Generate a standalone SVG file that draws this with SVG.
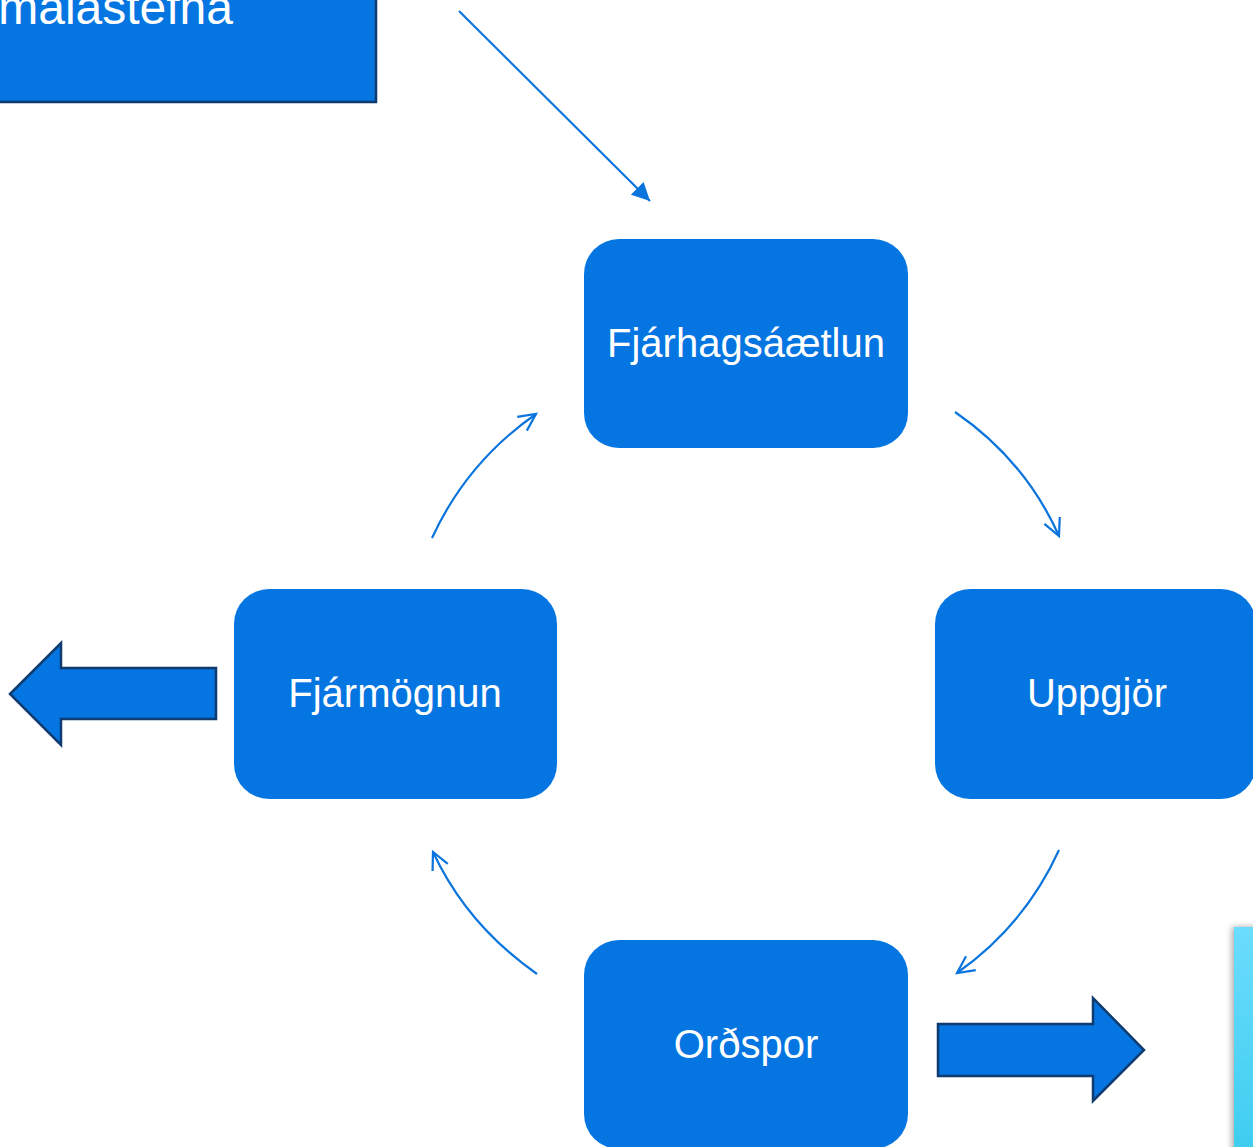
<svg xmlns="http://www.w3.org/2000/svg" width="1253" height="1147" viewBox="0 0 1253 1147">
<style>
.box{fill:#0575e1}
.lbl{font-family:"Liberation Sans",Arial,sans-serif;font-size:40px;fill:#ffffff;text-anchor:middle}
.blk{fill:#0575e1;stroke:#0f3b6f;stroke-width:2.5}
.con{fill:none;stroke:#0a74dd;stroke-width:2.2}
</style>
<defs>
<marker id="open" markerWidth="24" markerHeight="20" refX="10" refY="5" viewBox="0 0 12 10" orient="auto" markerUnits="userSpaceOnUse">
<path d="M1.5,0.8 L10,5 L1.5,9.2" fill="none" stroke="#0a74dd" stroke-width="1.1"/>
</marker>
<marker id="solid" markerWidth="18" markerHeight="18" refX="10" refY="5" viewBox="0 0 10 10" orient="auto" markerUnits="userSpaceOnUse">
<path d="M0,0 L10,5 L0,10 Z" fill="#0a74dd"/>
</marker>
<linearGradient id="cyan" x1="0" y1="0" x2="0" y2="1">
<stop offset="0" stop-color="#6bdcfd"/>
<stop offset="1" stop-color="#3dcdef"/>
</linearGradient>
<filter id="sh" x="-50%" y="-10%" width="200%" height="120%">
<feDropShadow dx="-2" dy="0" stdDeviation="3" flood-color="#000" flood-opacity="0.35"/>
</filter>
</defs>

<g id="node-malastefna">
<rect x="-3" y="-3" width="379" height="105" class="blk"/>
<text x="233" y="24" font-family="'Liberation Sans',Arial,sans-serif" font-size="48" fill="#ffffff" text-anchor="end">málastefna</text>
</g>

<g id="node-fjarhagsaaetlun">
<rect x="584" y="239" width="324" height="209" rx="35" class="box"/>
<text x="746" y="357" class="lbl">Fjárhagsáætlun</text>
</g>

<g id="node-fjarmognun">
<rect x="234" y="589" width="323" height="210" rx="35" class="box"/>
<text x="395" y="707" class="lbl">Fjármögnun</text>
</g>

<g id="node-uppgjor">
<rect x="935" y="589" width="321" height="210" rx="35" class="box"/>
<text x="1097" y="707" class="lbl">Uppgjör</text>
</g>

<g id="node-ordspor">
<rect x="584" y="940" width="324" height="209" rx="35" class="box"/>
<text x="746" y="1058" class="lbl">Orðspor</text>
</g>

<g id="node-left-arrow">
<polygon points="10,694 61,643 61,668 216,668 216,719 61,719 61,745" class="blk"/>
</g>

<g id="node-right-arrow">
<polygon points="938,1024 1093,1024 1093,998 1144,1050 1093,1101 1093,1076 938,1076" class="blk"/>
</g>

<g id="node-cyan">
<rect x="1234" y="927" width="30" height="230" fill="url(#cyan)" filter="url(#sh)"/>
</g>

<g id="connectors">
<line x1="459" y1="11" x2="650" y2="201" class="con" marker-end="url(#solid)"/>
<path d="M955,412 Q1025,460 1059,536" class="con" marker-end="url(#open)"/>
<path d="M1059,850 Q1025,925 957,973" class="con" marker-end="url(#open)"/>
<path d="M537,974 Q467,925 433,852" class="con" marker-end="url(#open)"/>
<path d="M432,538 Q467,462 536,414" class="con" marker-end="url(#open)"/>
</g>
</svg>
